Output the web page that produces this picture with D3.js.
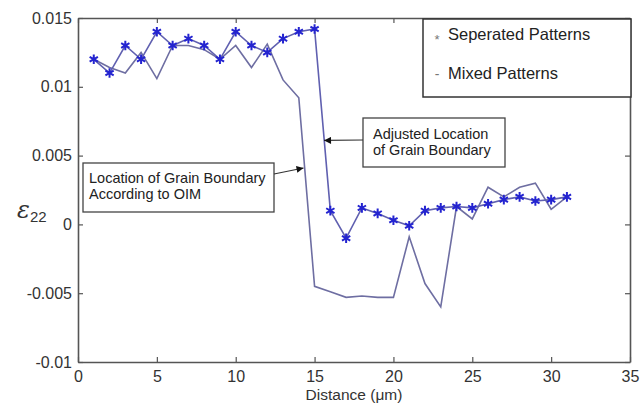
<!DOCTYPE html>
<html>
<head>
<meta charset="utf-8">
<script src="https://cdn.jsdelivr.net/npm/d3@7"></script>
<style>
  html, body { margin: 0; padding: 0; background: #fff; }
  svg { display: block; font-family: "Liberation Sans", Arial, sans-serif; }
</style>
</head>
<body>
<script>
const distance = [1,2,3,4,5,6,7,8,9,10,11,12,13,14,15,16,17,18,19,20,21,22,23,24,25,26,27,28,29,30,31];
const separated = [0.012,0.011,0.013,0.012,0.014,0.013,0.0135,0.013,0.012,0.014,0.013,0.0125,0.0135,0.014,0.0142,0.001,-0.001,0.0012,0.0008,0.0003,-0.0001,0.001,0.0012,0.0013,0.0012,0.0015,0.0018,0.002,0.0017,0.0018,0.002];
const mixed = [0.012,0.0114,0.011,0.0125,0.0106,0.013,0.013,0.0127,0.012,0.013,0.0114,0.0131,0.0105,0.0092,-0.0045,-0.0049,-0.0053,-0.0052,-0.0053,-0.0053,-0.0009,-0.0043,-0.006,0.0013,0.0004,0.0027,0.002,0.0027,0.003,0.0011,0.002];
const xTicks = [0,5,10,15,20,25,30,35];
const yTicks = [-0.01,-0.005,0,0.005,0.01,0.015];
const yTickLabels = ["-0.01","-0.005","0","0.005","0.01","0.015"];
const legendLabels = ["Seperated Patterns","Mixed Patterns"];
const annotations = [
  {lines:["Location of Grain Boundary","According to OIM"], x:14.3, y:0.0041},
  {lines:["Adjusted Location","of Grain Boundary"], x:15.6, y:0.0061}
];

const W = 640, H = 405;
const m = {left:78, right:10, top:18, bottom:43};
const svg = d3.select("body").append("svg").attr("width", W).attr("height", H);

const x = d3.scaleLinear().domain([0,35]).range([m.left, W - m.right]);
const y = d3.scaleLinear().domain([-0.01,0.015]).range([H - m.bottom, m.top]);

const axisColor = "#555";
const tickFmt = d => yTickLabels[yTicks.indexOf(d)];

// Axes (ticks pointing inward, all four sides)
const gB = svg.append("g").attr("transform", `translate(0,${y(-0.01)})`)
  .call(d3.axisBottom(x).tickValues(xTicks).tickSizeInner(-5).tickSizeOuter(0).tickPadding(3));
const gT = svg.append("g").attr("transform", `translate(0,${y(0.015)})`)
  .call(d3.axisTop(x).tickValues(xTicks).tickSizeInner(-5).tickSizeOuter(0).tickFormat(""));
const gL = svg.append("g").attr("transform", `translate(${x(0)},0)`)
  .call(d3.axisLeft(y).tickValues(yTicks).tickSizeInner(-5).tickSizeOuter(0).tickPadding(6).tickFormat(tickFmt));
const gR = svg.append("g").attr("transform", `translate(${x(35)},0)`)
  .call(d3.axisRight(y).tickValues(yTicks).tickSizeInner(-5).tickSizeOuter(0).tickFormat(""));
[gB,gT,gL,gR].forEach(g => {
  g.select(".domain").attr("stroke", axisColor).attr("stroke-width", 1.6);
  g.selectAll(".tick line").attr("stroke", axisColor).attr("stroke-width", 1.2);
  g.selectAll(".tick text").attr("fill", "#333").style("font-size", "16px");
});
gB.selectAll(".tick text").attr("y", 0).attr("dy", 0).attr("transform", "translate(0,20)");

// Axis labels
svg.append("text").attr("x", x(17.5)).attr("y", 400).attr("text-anchor", "middle")
  .attr("fill", "#333").style("font-size", "15.5px").text("Distance (μm)");
const yl = svg.append("text").attr("x", 17).attr("y", 218).attr("fill", "#333");
yl.append("tspan").style("font-size", "24px").style("font-style", "italic")
  .style("font-family", "'DejaVu Serif', serif").text("ε");
yl.append("tspan").style("font-size", "15px").attr("dy", 4).text("22");

// Lines
const line = (vals) => d3.line().x((d,i) => x(distance[i])).y(d => y(d))(vals);
svg.append("path").attr("d", line(mixed)).attr("fill", "none")
  .attr("stroke", "#6e6ea2").attr("stroke-width", 1.6);
svg.append("path").attr("d", line(separated)).attr("fill", "none")
  .attr("stroke", "#6060b0").attr("stroke-width", 1.6);

// Markers
const star = d3.symbol(d3.symbolAsterisk, 64);
svg.append("g").selectAll("path").data(separated).join("path")
  .attr("transform", (d,i) => `translate(${x(distance[i])},${y(d)})`)
  .attr("d", star).attr("fill", "none").attr("stroke", "#2424d0").attr("stroke-width", 2);

// Annotations
svg.append("defs").append("marker").attr("id", "ah").attr("viewBox", "0 0 10 10")
  .attr("refX", 10).attr("refY", 5).attr("markerWidth", 9).attr("markerHeight", 7)
  .attr("markerUnits", "userSpaceOnUse").attr("orient", "auto")
  .append("path").attr("d", "M0,0L10,5L0,10z").attr("fill", "#111");

// annotation 1: box left of boundary, arrow to the right
{
  const bx = 83, by = 163, bw = 191, bh = 49;
  svg.append("rect").attr("x", bx).attr("y", by).attr("width", bw).attr("height", bh)
    .attr("fill", "#fff").attr("stroke", "#444").attr("stroke-width", 1.3);
  annotations[0].lines.forEach((t,i) => svg.append("text").attr("x", bx + 6).attr("y", by + 20 + i*16)
    .attr("fill", "#222").style("font-size", "14.5px").text(t));
  svg.append("line").attr("x1", bx + bw).attr("y1", by + 11)
    .attr("x2", x(annotations[0].x)).attr("y2", y(annotations[0].y))
    .attr("stroke", "#333").attr("stroke-width", 1.2).attr("marker-end", "url(#ah)");
}
// annotation 2: box right of boundary, arrow to the left
{
  const bx = 363, by = 118, bw = 142, bh = 49;
  svg.append("rect").attr("x", bx).attr("y", by).attr("width", bw).attr("height", bh)
    .attr("fill", "#fff").attr("stroke", "#444").attr("stroke-width", 1.3);
  annotations[1].lines.forEach((t,i) => svg.append("text").attr("x", bx + 10).attr("y", by + 21 + i*16)
    .attr("fill", "#222").style("font-size", "14.5px").text(t));
  svg.append("line").attr("x1", bx).attr("y1", by + 22)
    .attr("x2", x(annotations[1].x)).attr("y2", y(annotations[1].y))
    .attr("stroke", "#333").attr("stroke-width", 1.2).attr("marker-end", "url(#ah)");
}

// Legend
{
  const lx = 423, ly = 19, lw = 208, lh = 78;
  svg.append("rect").attr("x", lx).attr("y", ly).attr("width", lw).attr("height", lh)
    .attr("fill", "#fff").attr("stroke", "#333").attr("stroke-width", 1.5);
  const markChars = ["*", "-"];
  legendLabels.forEach((t,i) => {
    const cy = ly + 15 + i*39;
    svg.append("text").attr("x", lx + 14).attr("y", cy + (i === 0 ? 10 : 6)).attr("text-anchor", "middle")
      .attr("fill", "#777").style("font-size", i === 0 ? "13px" : "14px").text(markChars[i]);
    svg.append("text").attr("x", lx + 25).attr("y", cy + 6).attr("fill", "#222")
      .style("font-size", "16.5px").text(t);
  });
}
</script>
</body>
</html>
